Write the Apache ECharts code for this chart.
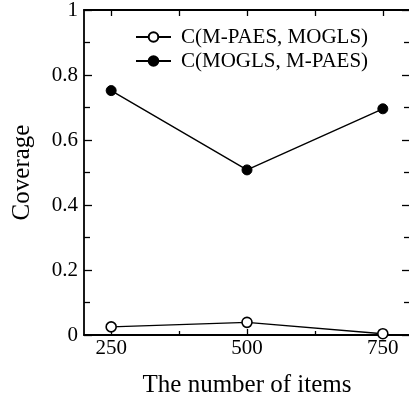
<!DOCTYPE html>
<html><head><meta charset="utf-8">
<script src="https://cdn.jsdelivr.net/npm/echarts@6/dist/echarts.min.js"></script>
<style>html,body{margin:0;padding:0;background:#fff}#c{width:409px;height:400px}</style>
</head><body><div id="c"></div>
<script>
const items = [250, 500, 750];
const seriesNames = ['C(M-PAES, MOGLS)', 'C(MOGLS, M-PAES)'];
const covA = [0.025, 0.039, 0.004];
const covB = [0.752, 0.508, 0.696];
const xMajorTicks = [250, 500, 750];
const xMinorTicks = [375, 625];
const xTopTicks = [250, 375, 500, 625, 750];

const font = 'Liberation Serif, Times New Roman, serif';
const chart = echarts.init(document.getElementById('c'), null, {renderer: 'canvas'});
const baseX = {type: 'value', min: 200, max: 800, splitLine: {show: false}};
chart.setOption({
  animation: false,
  grid: {left: 84, right: -1, top: 10, bottom: 65, containLabel: false, outerBoundsMode: 'none'},
  legend: {
    orient: 'vertical', left: 135, top: 25, padding: 0, itemWidth: 35, itemHeight: 12, itemGap: 0,
    data: seriesNames,
    textStyle: {fontFamily: font, fontSize: 21, color: '#000', lineHeight: 24, padding: [0, 0, 0, 5]}
  },
  xAxis: [
    Object.assign({}, baseX, {
      position: 'bottom',
      name: 'The number of items', nameLocation: 'middle', nameGap: 38,
      nameTextStyle: {fontFamily: font, fontSize: 25, color: '#000'},
      axisLine: {show: true, onZero: false, lineStyle: {color: '#000', width: 1.8}},
      axisTick: {show: true, inside: true, length: 6, customValues: xMajorTicks, lineStyle: {color: '#000', width: 1.3}},
      axisLabel: {show: true, customValues: xMajorTicks, margin: 3, fontFamily: font, fontSize: 21, color: '#000'}
    }),
    Object.assign({}, baseX, {
      position: 'bottom',
      axisLine: {show: false, onZero: false},
      axisTick: {show: true, inside: true, length: 4, customValues: xMinorTicks, lineStyle: {color: '#000', width: 1.3}},
      axisLabel: {show: false}
    }),
    Object.assign({}, baseX, {
      position: 'top',
      axisLine: {show: true, onZero: false, lineStyle: {color: '#000', width: 1.8}},
      axisTick: {show: true, inside: true, length: 6, customValues: xTopTicks, lineStyle: {color: '#000', width: 1.3}},
      axisLabel: {show: false}
    })
  ],
  yAxis: [
    {
      type: 'value', min: 0, max: 1, interval: 0.2, position: 'left',
      name: 'Coverage', nameLocation: 'middle', nameGap: 49,
      nameTextStyle: {fontFamily: font, fontSize: 25, color: '#000'},
      splitLine: {show: false},
      axisLine: {show: true, onZero: false, lineStyle: {color: '#000', width: 1.8}},
      axisTick: {show: true, inside: true, length: 8, lineStyle: {color: '#000', width: 1.3}},
      minorTick: {show: true, splitNumber: 2, length: 6, lineStyle: {color: '#000', width: 1.3}},
      axisLabel: {margin: 6, fontFamily: font, fontSize: 21, color: '#000', formatter: v => String(+v.toFixed(1))}
    },
    {
      type: 'value', min: 0, max: 1, interval: 0.2, position: 'right',
      splitLine: {show: false},
      axisLine: {show: true, onZero: false, lineStyle: {color: '#000', width: 1.8}},
      axisTick: {show: true, inside: true, length: 8, lineStyle: {color: '#000', width: 1.3}},
      minorTick: {show: true, splitNumber: 2, length: 6, lineStyle: {color: '#000', width: 1.3}},
      axisLabel: {show: false}
    }
  ],
  series: [
    {
      name: seriesNames[0], type: 'line', xAxisIndex: 0, yAxisIndex: 0,
      data: items.map((x, i) => [x, covA[i]]),
      symbol: 'circle', symbolSize: 10,
      lineStyle: {color: '#000', width: 1.4},
      itemStyle: {color: '#fff', borderColor: '#000', borderWidth: 1.6}
    },
    {
      name: seriesNames[1], type: 'line', xAxisIndex: 0, yAxisIndex: 0,
      data: items.map((x, i) => [x, covB[i]]),
      symbol: 'circle', symbolSize: 10,
      lineStyle: {color: '#000', width: 1.4},
      itemStyle: {color: '#000', borderColor: '#000', borderWidth: 1}
    }
  ]
});
</script></body></html>
